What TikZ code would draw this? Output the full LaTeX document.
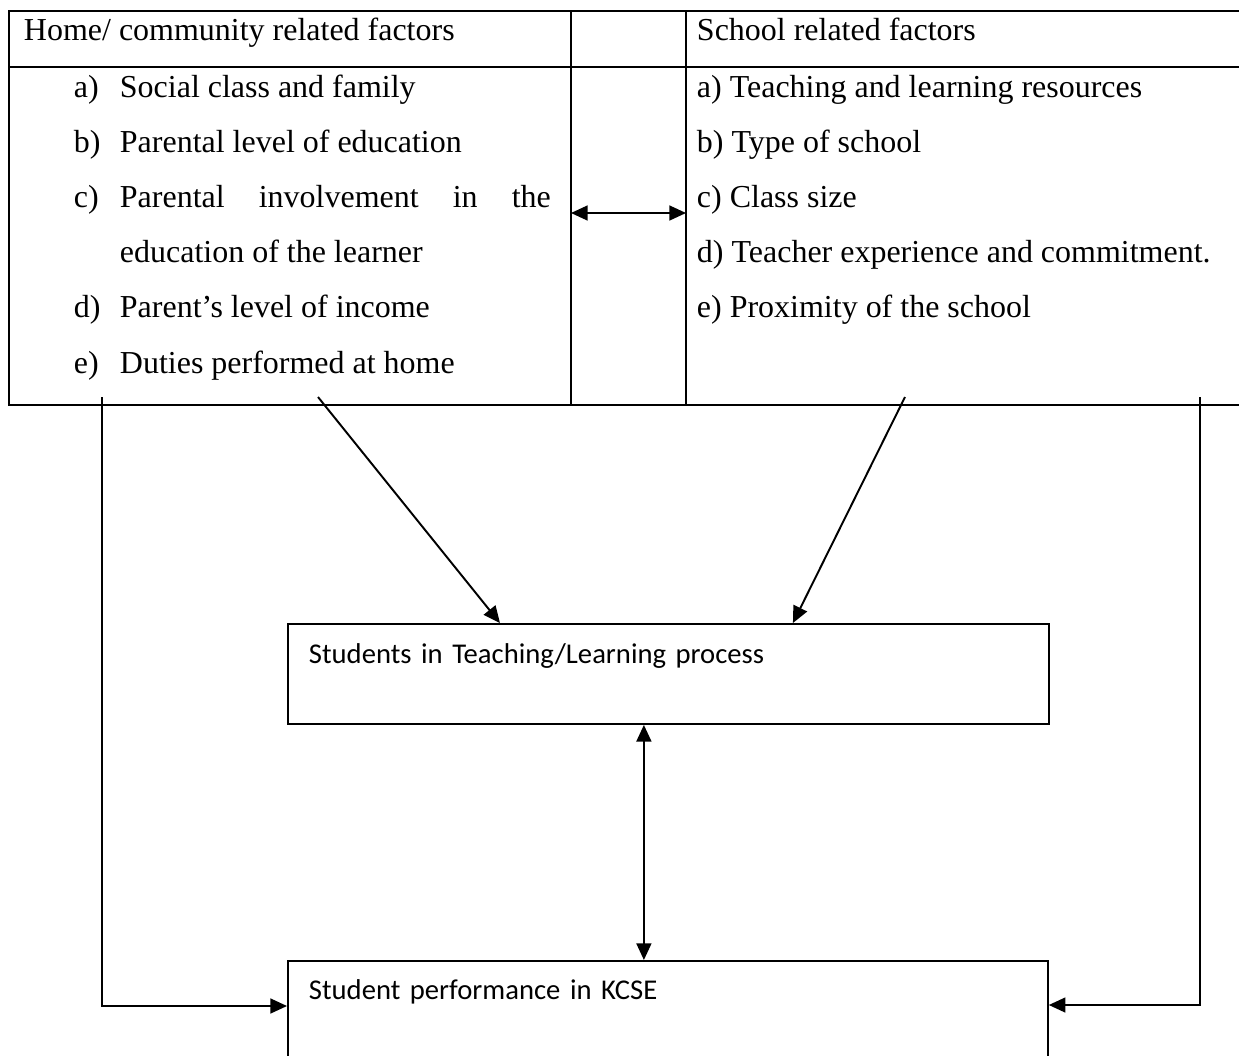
\documentclass[tikz,border=0pt]{standalone}
\usepackage{fontspec}
\setmainfont{Liberation Serif}
\newfontfamily\calibri{Carlito}
\usetikzlibrary{arrows.meta}

\begin{document}
\begin{tikzpicture}[x=0.02cm, y=-0.02cm, line width=1.1pt,
   cell/.style={anchor=base west, inner sep=0pt, font=\fontsize{18.2}{22}\selectfont},
   procbox/.style={draw, anchor=north west, align=left, inner ysep=0pt,
                   inner xsep=0.42cm, font=\calibri\fontsize{16.3}{20}\selectfont},
   arr/.style={-{Triangle[length=9.5pt,width=8.5pt]}},
   both/.style={{Triangle[length=9.5pt,width=8.5pt]}-{Triangle[length=9.5pt,width=8.5pt]}}]
   %
   \useasboundingbox (0,0) rectangle (1239,1055);
   \clip (0,0) rectangle (1239,1055);
   %
   % table
   \draw (1260,11) -- (9,11) -- (9,405) -- (1260,405);
   \draw (9,67) -- (1260,67);
   \draw (571,11) -- (571,405);
   \draw (686,11) -- (686,405);
   %
   \node[cell] (homehead) at (23,40) {Home/ community related factors};
   \node[cell] (schoolhead) at (696,40) {School related factors};
   %
   \node[cell] (homea) at (73,97) {\makebox[0.92cm][l]{a)}Social class and family};
   \node[cell] (homeb) at (73,152) {\makebox[0.92cm][l]{b)}Parental level of education};
   \node[cell] (homec) at (73,207)
        {\makebox[0.92cm][l]{c)}\makebox[8.62cm][l]{Parental\hfill involvement\hfill in\hfill the}};
   \node[cell] (homec2) at (119,262) {education of the learner};
   \node[cell] (homed) at (73,317) {\makebox[0.92cm][l]{d)}Parent’s level of income};
   \node[cell] (homee) at (73,373) {\makebox[0.92cm][l]{e)}Duties performed at home};
   %
   \node[cell] (schoola) at (696,97) {a) Teaching and learning resources};
   \node[cell] (schoolb) at (696,152) {b) Type of school};
   \node[cell] (schoolc) at (696,207) {c) Class size};
   \node[cell] (schoold) at (696,262) {d) Teacher experience and commitment.};
   \node[cell] (schoole) at (696,317) {e) Proximity of the school};
   %
   % boxes
   \node[procbox, text width=14.38cm, text height=0.8cm, text depth=1.2cm]
        (process) at (287,623) {Students in Teaching/Learning process};
   \node[procbox, text width=14.36cm, text height=0.77cm, text depth=2cm]
        (kcse) at (287,960) {Student performance in KCSE};
   %
   % connectors
   \coordinate (midleft) at (571,213);
   \coordinate (midright) at (686,213);
   \coordinate (homeleft) at (102,397);
   \coordinate (homediag) at (318,397);
   \coordinate (schooldiag) at (905,397);
   \coordinate (schoolright) at (1200,397);
   %
   \draw[both] (midleft) -- (midright);
   \draw[arr] (homediag) -- ([xshift=4.26cm]process.north west);
   \draw[arr] (schooldiag) -- ([xshift=10.12cm]process.north west);
   \draw[both] ([xshift=-0.49cm]process.south) -- ([xshift=-0.49cm]process.south |- kcse.north);
   \draw[arr] (homeleft) |- ([yshift=-0.92cm]kcse.north west);
   \draw[arr] (schoolright) |- ([yshift=-0.9cm]kcse.north east);
   %
\end{tikzpicture}
\end{document}
